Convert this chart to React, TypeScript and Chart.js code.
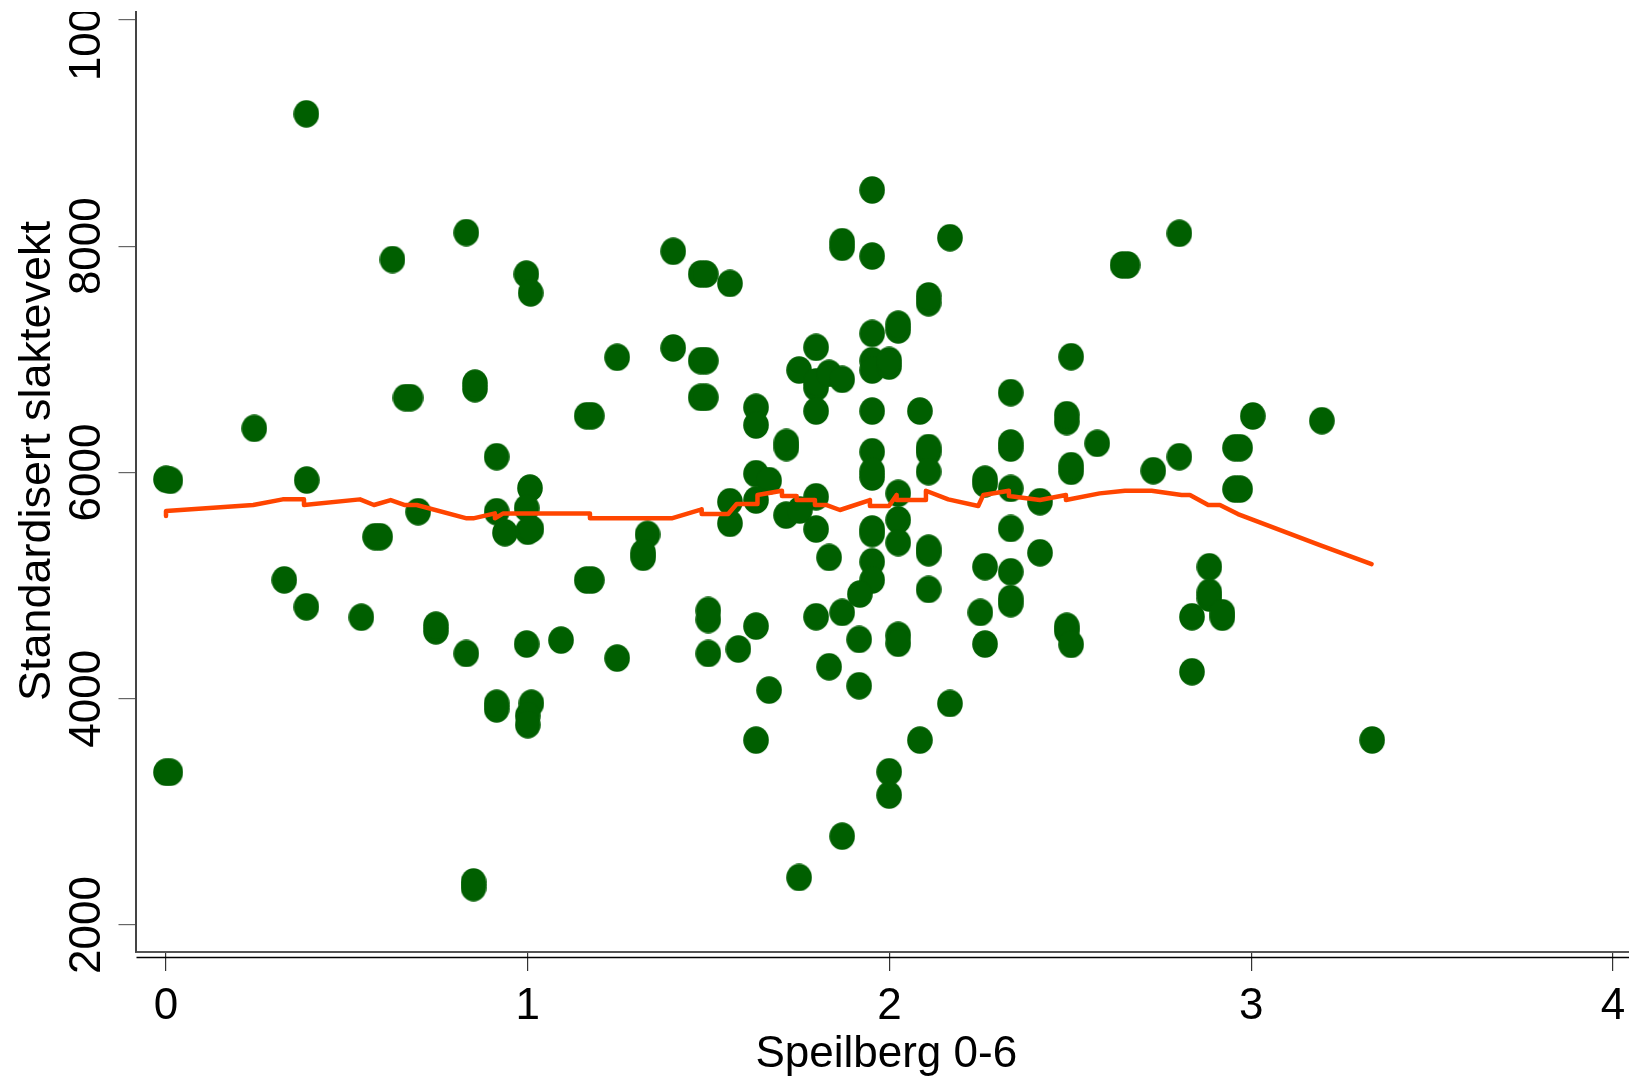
import React, { useEffect, useRef } from "react";
import { Chart, registerables } from "chart.js";

Chart.register(...registerables);

const FONT = '"Liberation Sans", Arial, Helvetica, sans-serif';

const xTitle = "Speilberg 0-6";
const yTitle = "Standardisert slaktevekt";

const xTickValues = [0, 1, 2, 3, 4];
const yTickValues = [2000, 4000, 6000, 8000, 10000];

const speilberg = [
  0, 0.012, 0, 0.012, 0.244, 0.388, 0.389, 0.327, 0.388, 0.54,
  0.626, 0.662, 0.676, 0.578, 0.592, 0.697, 0.746, 0.746, 0.83, 0.83,
  0.854, 0.854, 0.85, 0.85, 0.914, 0.914, 0.937, 0.914, 0.914, 0.996,
  1.008, 1.006, 0.997, 1.0, 1.01, 0.997, 1.01, 1.0, 1.0, 1.092,
  1.163, 1.177, 1.163, 1.177, 1.247, 1.247, 1.331, 1.319, 1.319, 1.402,
  1.402, 1.478, 1.492, 1.559, 1.478, 1.492, 1.478, 1.492, 1.499, 1.499,
  1.499, 1.559, 1.559, 1.582, 1.631, 1.631, 1.631, 1.631, 1.667, 1.631,
  1.667, 1.631, 1.715, 1.715, 1.75, 1.797, 1.797, 1.797, 1.833, 1.869,
  1.797, 1.714, 1.752, 1.797, 1.797, 1.833, 1.797, 1.869, 1.833, 1.75,
  1.869, 1.869, 1.869, 1.952, 1.952, 1.952, 1.952, 1.952, 1.999, 1.999,
  1.952, 1.952, 1.952, 1.952, 1.952, 1.952, 1.952, 1.952, 1.918, 1.916,
  1.916, 2.024, 2.024, 2.024, 2.024, 2.024, 2.024, 2.024, 1.999, 1.999,
  2.084, 2.084, 2.108, 2.108, 2.108, 2.108, 2.108, 2.108, 2.108, 2.108,
  2.167, 2.167, 2.264, 2.264, 2.264, 2.251, 2.264, 2.335, 2.335, 2.335,
  2.335, 2.335, 2.335, 2.335, 2.335, 2.416, 2.416, 2.502, 2.49, 2.49,
  2.574, 2.502, 2.502, 2.49, 2.49, 2.502, 2.644, 2.658, 2.729, 2.801,
  2.801, 2.836, 2.836, 2.884, 2.884, 2.884, 2.92, 2.92, 2.955, 2.969,
  2.955, 2.969, 3.004, 3.195, 3.334,
];

const slaktevekt = [
  5940, 5930, 3350, 3350, 6390, 9170, 5933, 5050, 4812, 4720,
  7882, 6661, 6661, 5432, 5432, 5653, 4600, 4650, 8120, 4400,
  6740, 6790, 2330, 2380, 6139, 5653, 5467, 3910, 3960, 7753,
  7587, 5862, 5685, 5480, 5500, 4483, 3960, 3850, 3770, 4518,
  6501, 6501, 5049, 5049, 7018, 4359, 5452, 5250, 5290, 7955,
  7100, 7754, 7754, 7671, 6988, 6988, 6664, 6664, 4700, 4780,
  4400, 5741, 5550, 4439, 4642, 6576, 6419, 5989, 5928, 5756,
  4076, 3634, 6220, 6265, 6905, 7106, 6750, 6800, 6876, 6823,
  6543, 5623, 5668, 5785, 5500, 5249, 4724, 4763, 4282, 2420,
  2785, 7990, 8040, 8497, 7913, 7229, 6988, 6905, 6940, 6990,
  6543, 6183, 5960, 6010, 5500, 5460, 5211, 5049, 4925, 4524,
  4114, 7260, 7310, 5815, 5580, 5380, 4560, 4490, 3354, 3148,
  6543, 3634, 7500, 7560, 6180, 6220, 6007, 5290, 5330, 4966,
  8075, 3958, 5900, 5940, 5167, 4763, 4483, 6705, 6215, 6260,
  5859, 5505, 5122, 4840, 4885, 5741, 5290, 7023, 6450, 6510,
  6257, 6010, 6060, 4600, 4640, 4480, 7834, 7834, 6015, 8114,
  6139, 4724, 4238, 5166, 4890, 4940, 4720, 4760, 6218, 6218,
  5853, 5853, 6499, 6457, 3635,
];

const lowessX = [
  0, 0, 0.241, 0.3226, 0.3814, 0.3814, 0.5362, 0.5749, 0.6211, 0.6606,
  0.6929, 0.8311, 0.8494, 0.9093, 0.9093, 0.9323, 1.1719, 1.1719, 1.3977, 1.4807,
  1.4807, 1.554, 1.5774, 1.635, 1.635, 1.7026, 1.7026, 1.7432, 1.7432, 1.7938,
  1.7938, 1.8262, 1.8629, 1.9458, 1.9458, 1.9984, 2.0196, 2.0196, 2.1006, 2.1006,
  2.1622, 2.2452, 2.259, 2.33, 2.33, 2.4157, 2.4876, 2.4876, 2.581, 2.6506,
  2.7244, 2.8074, 2.8303, 2.8809, 2.9132, 2.963, 3.1896, 3.3325,
];

const lowessY = [
  5615, 5660, 5712, 5762, 5762, 5712, 5762, 5712, 5756, 5712,
  5712, 5594, 5594, 5638, 5594, 5638, 5638, 5594, 5594, 5674,
  5632, 5632, 5721, 5721, 5800, 5838, 5791, 5791, 5756, 5756,
  5712, 5712, 5668, 5756, 5703, 5703, 5800, 5756, 5756, 5838,
  5762, 5703, 5800, 5838, 5791, 5756, 5800, 5756, 5815, 5838,
  5838, 5800, 5800, 5712, 5712, 5632, 5358, 5190,
];

function makeEllipse(): HTMLCanvasElement {
  const c = document.createElement("canvas");
  c.width = 26;
  c.height = 28;
  const g = c.getContext("2d");
  if (g) {
    g.fillStyle = "#005F00";
    g.beginPath();
    g.ellipse(13, 14, 12.8, 13.8, 0, 0, Math.PI * 2);
    g.fill();
  }
  return c;
}

const decorPlugin = {
  id: "decor",
  afterDraw(chart: any) {
    const { ctx, chartArea, scales } = chart;
    const ys = scales.y;
    ctx.save();
    // second (black) horizontal axis line
    ctx.strokeStyle = "#000";
    ctx.lineWidth = 1.3;
    ctx.beginPath();
    ctx.moveTo(chartArea.left + 1, chartArea.bottom + 5.5);
    ctx.lineTo(chartArea.right, chartArea.bottom + 5.5);
    ctx.stroke();

    ctx.fillStyle = "#000";
    ctx.textAlign = "center";
    ctx.textBaseline = "alphabetic";
    // rotated y tick labels, clipped at the top of the plot frame
    ctx.save();
    ctx.beginPath();
    ctx.rect(0, chartArea.top, chartArea.left, chart.height - chartArea.top);
    ctx.clip();
    ctx.font = `44px ${FONT}`;
    ys.ticks.forEach((t: any) => {
      const p = ys.getPixelForValue(t.value);
      ctx.save();
      ctx.translate(chartArea.left - 35.5, p);
      ctx.rotate(-Math.PI / 2);
      ctx.fillText(String(t.label ?? t.value), 0, 0);
      ctx.restore();
    });
    ctx.restore();
    // y axis title
    ctx.save();
    ctx.font = `45px ${FONT}`;
    ctx.translate(50, (chartArea.top + chartArea.bottom) / 2 - 21);
    ctx.rotate(-Math.PI / 2);
    ctx.fillText(yTitle, 0, 0);
    ctx.restore();
    // x axis title
    ctx.font = `44px ${FONT}`;
    ctx.fillText(xTitle, (chartArea.left + chartArea.right) / 2 + 4, chart.height - 10);
    ctx.restore();
  },
};

export default function App() {
  const ref = useRef<HTMLCanvasElement | null>(null);

  useEffect(() => {
    const canvas = ref.current;
    if (!canvas) return;
    const ellipse = makeEllipse();
    const chart = new Chart(canvas, {
      type: "scatter",
      data: {
        datasets: [
          {
            type: "line",
            label: "Lowess",
            data: lowessX.map((x, i) => ({ x, y: lowessY[i] })),
            borderColor: "#FF4500",
            borderWidth: 4.5,
            pointRadius: 0,
            fill: false,
            tension: 0,
            borderJoinStyle: "round",
            borderCapStyle: "round",
            order: 0,
          } as any,
          {
            type: "scatter",
            label: "Slaktevekt",
            data: speilberg.map((x, i) => ({ x, y: slaktevekt[i] })),
            pointStyle: ellipse as any,
            pointRadius: 14,
            backgroundColor: "#005F00",
            borderColor: "#005F00",
            order: 1,
          } as any,
        ],
      },
      options: {
        animation: false,
        responsive: false,
        maintainAspectRatio: false,
        events: [],
        layout: { autoPadding: false, padding: { top: 12, left: 0, right: 0, bottom: 0 } },
        plugins: {
          legend: { display: false },
          tooltip: { enabled: false },
        },
        scales: {
          x: {
            type: "linear",
            min: -0.0843,
            max: 4.044,
            afterBuildTicks: (s: any) => {
              s.ticks = xTickValues.map((v) => ({ value: v }));
            },
            afterFit: (s: any) => {
              s.height = 125;
              s.paddingLeft = 0;
              s.paddingRight = 0;
            },
            grid: {
              drawOnChartArea: false,
              drawTicks: true,
              tickLength: 19,
              color: "#333",
              lineWidth: 1.2,
            },
            border: { display: true, color: "#555", width: 2 },
            ticks: {
              color: "#000",
              font: { family: FONT, size: 44 },
              padding: 9,
              maxRotation: 0,
              autoSkip: false,
              callback: (v: any) => String(v),
            },
          },
          y: {
            type: "linear",
            min: 1761,
            max: 10070,
            afterBuildTicks: (s: any) => {
              s.ticks = yTickValues.map((v) => ({ value: v }));
            },
            afterFit: (s: any) => {
              s.width = 135.5;
              s.paddingTop = 0;
              s.paddingBottom = 0;
            },
            grid: {
              drawOnChartArea: false,
              drawTicks: true,
              tickLength: 17,
              color: "#666",
              lineWidth: 1.2,
            },
            border: { display: true, color: "#444", width: 2 },
            ticks: {
              display: false,
              callback: (v: any) => String(v),
            },
          },
        },
      },
      plugins: [decorPlugin],
    });
    return () => chart.destroy();
  }, []);

  return (
    <div style={{ position: "fixed", left: 0, top: 0, width: 1629, height: 1077, background: "#fff" }}>
      <canvas ref={ref} width={1629} height={1077} style={{ display: "block", width: 1629, height: 1077 }} />
    </div>
  );
}
